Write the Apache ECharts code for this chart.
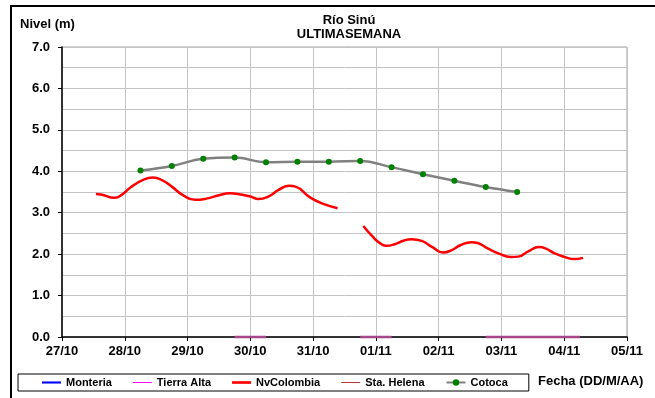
<!DOCTYPE html>
<html>
<head>
<meta charset="utf-8">
<script src="https://cdn.jsdelivr.net/npm/echarts@6/dist/echarts.min.js"></script>
<style>
  html, body { margin: 0; padding: 0; background: #fff; }
  #chart { width: 655px; height: 398px; }
</style>
</head>
<body>
<div id="chart"></div>
<script>
// Day ticks (x = days since 27/10)
const dayLabels = ['27/10', '28/10', '29/10', '30/10', '31/10', '01/11', '02/11', '03/11', '04/11', '05/11'];

// Station series: [day offset, level in m]; null breaks the line
const monteria = [];
const tierraAlta = [
  [2.75, 0], [3.25, 0], null,
  [4.75, 0], [5.25, 0], null,
  [6.75, 0], [8.25, 0]
];
const nvColombia = [
  [0.54, 3.45], [0.62, 3.44], [0.84, 3.36], [0.95, 3.43], [1.10, 3.62],
  [1.30, 3.80], [1.45, 3.85], [1.60, 3.78], [1.75, 3.63], [1.92, 3.43],
  [2.12, 3.31], [2.30, 3.34], [2.50, 3.42], [2.67, 3.47], [2.85, 3.44],
  [3.00, 3.39], [3.13, 3.33], [3.30, 3.40], [3.45, 3.55], [3.62, 3.65],
  [3.72, 3.63], [3.95, 3.37], [4.15, 3.22], [4.39, 3.11],
  null,
  [4.80, 2.68], [4.95, 2.42], [5.07, 2.26], [5.17, 2.20], [5.30, 2.24],
  [5.45, 2.33], [5.57, 2.36], [5.73, 2.32], [5.90, 2.17], [6.07, 2.04],
  [6.20, 2.09], [6.35, 2.22], [6.52, 2.29], [6.62, 2.27], [6.78, 2.14],
  [6.95, 2.02], [7.15, 1.93], [7.27, 1.94], [7.42, 2.06], [7.60, 2.17],
  [7.70, 2.14], [7.85, 2.02], [8.05, 1.91], [8.15, 1.88], [8.30, 1.91]
];
const staHelena = [];
const cotocaDays = [1.25, 1.75, 2.25, 2.75, 3.25, 3.75, 4.25, 4.75, 5.25, 5.75, 6.25, 6.75, 7.25];
const cotocaLevels = [4.02, 4.13, 4.30, 4.33, 4.22, 4.23, 4.23, 4.25, 4.10, 3.93, 3.77, 3.62, 3.50];

const FONT = 'Arial, "Liberation Sans", sans-serif';
const chart = echarts.init(document.getElementById('chart'));

chart.setOption({
  animation: false,
  backgroundColor: '#ffffff',
  title: {
    text: 'Río Sinú\nULTIMASEMANA',
    left: 344, top: 8,
    textAlign: 'center',
    textStyle: { fontFamily: FONT, fontSize: 13, fontWeight: 'bold', color: '#000', lineHeight: 14 }
  },
  grid: {
    left: 62, top: 47, right: 28, bottom: 61,
    show: true, borderColor: '#a0a0a0', borderWidth: 1, backgroundColor: '#ffffff'
  },
  legend: {
    left: 18, top: 374,
    orient: 'horizontal',
    padding: [3, 21, 3, 24],
    itemGap: 21,
    itemWidth: 19, itemHeight: 8,
    symbolKeepAspect: true,
    borderColor: '#000', borderWidth: 1,
    textStyle: { fontFamily: FONT, fontSize: 11, fontWeight: 'bold', color: '#000' },
    data: [
      { name: 'Monteria', icon: 'path://M0,0H20V2.2H0Z' },
      { name: 'Tierra Alta', icon: 'path://M0,0H20V1H0Z', itemStyle: { color: '#ff00ff' } },
      { name: 'NvColombia', icon: 'path://M0,0H20V2.8H0Z' },
      { name: 'Sta. Helena', icon: 'path://M0,0H20V1H0Z' },
      { name: 'Cotoca' }
    ]
  },
  graphic: [
    { type: 'line', shape: { x1: 11, y1: 6, x2: 11, y2: 398 }, style: { stroke: '#000', lineWidth: 2 } },
    { type: 'line', shape: { x1: 10, y1: 6, x2: 655, y2: 6 }, style: { stroke: '#000', lineWidth: 2 } },
    {
      type: 'text', left: 538, top: 375,
      style: { text: 'Fecha (DD/M/AA)', font: 'bold 13px ' + FONT, fill: '#000' }
    }
  ],
  xAxis: {
    type: 'value', min: 0, max: 9, interval: 1,
    axisLine: { show: true, onZero: false, lineStyle: { color: '#000', width: 1.5 } },
    axisTick: { show: true, length: 4, lineStyle: { color: '#000' } },
    axisLabel: {
      fontFamily: FONT, fontSize: 13, fontWeight: 'bold', color: '#000', margin: 8,
      formatter: v => dayLabels[Math.round(v)]
    },
    splitLine: { show: true, lineStyle: { color: '#c4c4c4', width: 1 } }
  },
  yAxis: {
    type: 'value', min: 0, max: 7, interval: 1,
    name: 'Nivel (m)',
    nameLocation: 'end',
    nameGap: 16,
    nameTextStyle: { fontFamily: FONT, fontSize: 13, fontWeight: 'bold', color: '#000', align: 'left', padding: [0, 0, 0, -42] },
    axisLine: { show: true, lineStyle: { color: '#000', width: 1.5 } },
    axisTick: { show: true, length: 4, lineStyle: { color: '#000' } },
    axisLabel: {
      fontFamily: FONT, fontSize: 13, fontWeight: 'bold', color: '#000', margin: 12,
      formatter: v => v.toFixed(1)
    },
    splitLine: { show: true, lineStyle: { color: '#c4c4c4', width: 1 } },
    minorTick: { show: false, splitNumber: 2 },
    minorSplitLine: { show: true, lineStyle: { color: '#c4c4c4', width: 1 } }
  },
  series: [
    {
      name: 'Monteria', type: 'line', data: monteria, symbol: 'none',
      itemStyle: { color: '#0000ff' }, lineStyle: { color: '#0000ff', width: 2 }
    },
    {
      name: 'Tierra Alta', type: 'line', data: tierraAlta, symbol: 'none', connectNulls: false,
      clip: false, z: 5,
      itemStyle: { color: '#ff00ff' }, lineStyle: { color: '#a8468c', width: 2.5 }
    },
    {
      name: 'NvColombia', type: 'line', data: nvColombia, symbol: 'none', smooth: 0.5, connectNulls: false,
      itemStyle: { color: '#ff0000' }, lineStyle: { color: '#ff0000', width: 2.5 }
    },
    {
      name: 'Sta. Helena', type: 'line', data: staHelena, symbol: 'none',
      itemStyle: { color: '#b03030' }, lineStyle: { color: '#b03030', width: 1 }
    },
    {
      name: 'Cotoca', type: 'line',
      data: cotocaDays.map((d, i) => [d, cotocaLevels[i]]),
      smooth: 0.4, symbol: 'circle', symbolSize: 6,
      itemStyle: { color: '#008000' }, lineStyle: { color: '#808080', width: 2.5 }
    }
  ]
});
</script>
</body>
</html>
